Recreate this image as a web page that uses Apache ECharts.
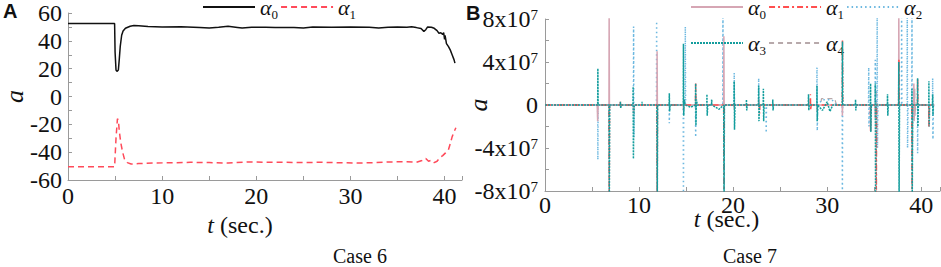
<!DOCTYPE html>
<html>
<head>
<meta charset="utf-8">
<script src="https://cdn.jsdelivr.net/npm/echarts@6/dist/echarts.min.js"></script>
<style>html,body{margin:0;padding:0;background:#fff}#c{width:941px;height:267px}</style>
</head>
<body>
<div id="c"></div>
<script>
// ---------- Panel A (Case 6): [t (sec.), a] ----------
const case6Alpha0 = [[0,52.5],[4.95,52.5],[5.0,32],[5.1,19],[5.2,18],[5.35,19],[5.45,27],[5.55,36],[5.7,44],[5.85,47],[6.1,49],[6.6,50.5],[7.0,51],[7.5,50.8],[8.5,50.3],[10,50],[12,50.2],[14,49.6],[15,49.3],[16,49.8],[17,50.4],[18,49.6],[18.5,49.2],[19.5,49.8],[21,49.7],[22,49.5],[24,49.6],[25,49.3],[26,49.9],[28,49.8],[30,50],[32,49.8],[33,49.3],[34,49.7],[35,50],[36,49.8],[36.5,50.1],[37,49.5],[37.5,48.8],[37.8,46.8],[38.0,48],[38.2,50],[38.6,49.8],[38.9,49],[39.2,47.3],[39.4,45.5],[39.6,45.8],[39.8,44.5],[39.9,46],[40.0,41],[40.05,44],[40.2,38],[40.4,36],[40.6,33.5],[40.8,30],[41.0,26.5],[41.1,24]];
const case6Alpha1 = [[0,-50.5],[4.95,-50.5],[5.1,-30],[5.25,-16],[5.35,-17],[5.45,-25],[5.6,-33],[5.8,-40],[6.0,-45],[6.3,-47.5],[6.7,-48.5],[7.5,-48.2],[9,-47.8],[11,-47.6],[13,-47.3],[15,-47.5],[17,-47.8],[19,-47],[21,-47.2],[23,-47.3],[25,-47.4],[27,-47.3],[29,-47.6],[31,-47.8],[32.5,-47.5],[34,-47],[36,-46.9],[37,-47.3],[37.6,-46],[38.0,-44.5],[38.3,-46.5],[38.6,-45.8],[38.9,-47.5],[39.2,-46.5],[39.5,-44],[39.8,-42.5],[40.1,-40.5],[40.4,-38.5],[40.6,-34],[40.8,-29],[41.0,-25.5],[41.2,-22.5]];

// ---------- Panel B (Case 7): [t (sec.), a in units of 10^7] ----------
const case7Alpha0 = [[0,0],[5.55,0],[5.6,-1.5],[5.65,0],[6.8,0],[6.82,9],[6.85,0],[9.4,0],[9.42,-0.8],[9.45,0],[11.9,0],[11.92,5],[11.95,0],[14.7,0],[14.72,-0.5],[14.75,0],[19.0,0],[19.02,6.4],[19.05,0],[20.1,0],[20.12,-0.4],[20.15,0],[22.7,0],[22.72,0.5],[22.75,0],[28.9,0],[28.92,-0.6],[28.95,0],[31.6,0],[31.62,-1],[31.65,0],[35.1,0],[35.12,-1.2],[35.15,0],[37.6,0],[37.62,9],[37.65,0],[39.2,0],[39.22,2],[39.25,-1.5],[39.3,0],[41.4,0]];
const case7Alpha1 = [[0,0],[6.8,0],[6.83,-9],[6.86,0],[8.0,0],[8.02,0.3],[8.05,0],[11.9,0],[11.93,-9],[11.96,0],[16.0,0],[16.02,2],[16.05,0],[19.0,0],[19.03,-9],[19.06,0],[22.8,0],[22.82,-0.8],[22.85,0],[28.2,0],[28.22,1],[28.25,-0.5],[28.3,0],[31.6,0],[31.63,6],[31.66,0],[34.6,0],[34.62,-2.5],[34.65,0],[35.2,0],[35.23,-9],[35.26,0],[37.6,0],[37.63,4.3],[37.66,0],[39.0,0],[39.03,-9],[39.06,0],[39.6,0],[39.62,2.5],[39.65,0],[40.8,0],[40.82,-2],[40.85,0],[41.4,0]];
const case7Alpha2 = [[0,0],[5.6,0],[5.62,-5.1],[5.65,0],[9.4,0],[9.42,7.3],[9.45,-3],[9.5,0],[11.85,0],[11.87,7.8],[11.9,0],[13.2,0],[13.22,-1.7],[13.25,0],[14.7,0],[14.72,-9],[14.75,0],[14.9,0],[14.92,7.3],[14.95,0],[16.0,0],[16.02,-3],[16.05,0],[18.9,0],[18.92,9],[18.95,0],[20.1,0],[20.12,3],[20.15,0],[22.7,0],[22.72,2.5],[22.75,0],[23.5,0],[23.52,-2.6],[23.55,0],[28.9,0],[28.92,3.5],[28.95,-2.4],[29.0,0],[29.5,0.5],[30.5,0.5],[31.0,0],[31.6,0],[31.62,-9],[31.65,0],[34.4,0],[34.42,3.5],[34.45,-2],[34.5,0],[35.1,0],[35.12,4.2],[35.15,0],[35.3,0],[35.32,9],[35.35,-4],[35.4,0],[37.9,0],[37.92,9],[37.95,0],[38.5,0],[38.52,9],[38.55,-4],[38.6,0],[39.0,0],[39.02,9],[39.05,-5.3],[39.1,0],[39.6,0],[39.62,-4.5],[39.65,0],[41.2,0],[41.22,2.5],[41.25,-3.2],[41.3,0],[41.4,0]];
const case7Alpha3 = [[0,0],[5.6,0],[5.62,3.4],[5.65,0],[6.8,0],[6.84,-9],[6.88,0],[8.0,0],[8.02,0.3],[8.05,-0.3],[8.1,0],[9.35,0],[9.37,1.7],[9.4,-5],[9.45,-1],[9.5,0],[10.3,0],[10.32,0.3],[10.35,0],[11.9,0],[11.94,-9],[11.98,0],[13.2,0],[13.22,1.1],[13.25,-0.6],[13.3,0],[14.7,0],[14.72,5.7],[14.75,-1],[14.8,0.5],[14.9,0],[15.5,-0.2],[16.0,0],[16.02,2],[16.05,-1.9],[16.1,0.5],[16.2,0],[17.2,0],[17.22,1],[17.25,-1],[17.3,0],[17.7,0],[17.72,0.5],[17.75,0],[18.5,-0.4],[19.0,0],[19.04,-9],[19.08,0],[20.1,0],[20.12,2.2],[20.15,-2.3],[20.2,0],[21.4,0],[21.42,0.5],[21.45,-0.5],[21.5,0],[22.7,0],[22.72,1.8],[22.75,-1.5],[22.8,0],[23.2,0],[23.22,1.5],[23.25,-1.5],[23.3,0],[24.2,0],[24.22,0.5],[24.25,-0.5],[24.3,0],[28.0,0],[28.02,1],[28.05,-0.5],[28.1,0],[28.9,0],[28.92,1.8],[28.95,-1.5],[29.0,0],[29.5,-0.5],[30.0,0.3],[30.3,-0.6],[30.6,0],[31.6,0],[31.63,5.9],[31.66,0],[33.0,0],[33.02,0.5],[33.05,-0.5],[33.1,0],[34.6,0],[34.62,2],[34.65,-2.5],[34.7,0],[35.1,0],[35.12,2],[35.15,-9],[35.2,0],[36.4,0],[36.42,1],[36.45,-1],[36.5,0],[37.6,0],[37.62,4],[37.65,-9],[37.7,0],[39.0,0],[39.02,1.5],[39.05,-9],[39.1,0],[39.6,0],[39.62,2.5],[39.65,-2],[39.7,0],[40.8,0],[40.82,2.2],[40.85,-2],[40.9,0],[41.2,0],[41.22,1],[41.25,-1],[41.3,0]];
const case7Alpha4 = [[0,0],[14.7,0],[14.72,0.5],[14.75,0],[19.0,0],[19.02,-0.8],[19.05,0],[29.3,0],[29.4,0.6],[30.8,0.6],[31.0,0],[35.2,0],[35.22,1.5],[35.25,0],[39.3,0],[39.32,1.5],[39.35,-1],[39.4,0],[41.4,0]];

// ---------- ticks ----------
const caseAYTicks = {min: -60, max: 60, interval: 20};
const caseBYTicks = {min: -8, max: 8, interval: 4};   // units of 10^7
const xTickInterval = 10;

const SERIF = 'Liberation Serif';
const chart = echarts.init(document.getElementById('c'), null, {renderer: 'svg'});

const axisLineStyle = {color: '#9a9a9a', width: 1};
const labelRich = {
  m: {fontFamily: SERIF, fontSize: 24, color: '#111'},
  p: {fontFamily: SERIF, fontSize: 15, color: '#111', padding: [0, 0, 9, 0]}
};
function xAxisCfg(grid, max, gap, padRight, labelMargin) {
  return {
    type: 'value', gridIndex: grid, min: 0, max: max, interval: xTickInterval,
    axisLine: {show: true, onZero: false, lineStyle: axisLineStyle},
    axisTick: {show: true, inside: true, length: 4, lineStyle: axisLineStyle},
    minorTick: {show: true, splitNumber: 2, length: 4, lineStyle: axisLineStyle},
    splitLine: {show: false},
    axisLabel: {margin: labelMargin, showMaxLabel: false, rich: labelRich, fontSize: 24, fontFamily: SERIF, color: '#111',
      formatter: v => (Math.abs(v % xTickInterval) < 1e-9 ? '{m|' + v + '}' : '')},
    name: '{i|t}{r| (sec.)}', nameLocation: 'middle', nameGap: gap, nameMoveOverlap: false,
    nameTextStyle: {padding: [0, padRight, 0, 0], fontSize: 24, fontFamily: SERIF, color: '#111',
      rich: {i: {fontFamily: SERIF, fontSize: 24, fontStyle: 'italic', color: '#111'},
             r: {fontFamily: SERIF, fontSize: 24, color: '#111'}}}
  };
}
function yAxisCfg(grid, ticks, gap, margin, fmt) {
  return {
    type: 'value', gridIndex: grid, min: ticks.min, max: ticks.max, interval: ticks.interval,
    axisLine: {show: true, onZero: false, lineStyle: axisLineStyle},
    axisTick: {show: true, inside: true, length: 4, lineStyle: axisLineStyle},
    minorTick: {show: true, splitNumber: 2, length: 4, lineStyle: axisLineStyle},
    splitLine: {show: false},
    axisLabel: {margin: margin, formatter: fmt, rich: labelRich, fontSize: 24, fontFamily: SERIF, color: '#111'},
    name: '{i|a}', nameLocation: 'middle', nameRotate: 90, nameGap: gap, nameMoveOverlap: false,
    nameTextStyle: {fontSize: 26, fontFamily: SERIF, color: '#111',
      rich: {i: {fontFamily: SERIF, fontSize: 26, fontStyle: 'italic', color: '#111'}}}
  };
}
const legendRich = {
  a: {fontFamily: SERIF, fontStyle: 'italic', fontSize: 22, lineHeight: 22, verticalAlign: 'top', color: '#111'},
  s: {fontFamily: SERIF, fontSize: 13, lineHeight: 13, padding: [12, 0, 0, 0], verticalAlign: 'top', color: '#111'}
};
const legendFmt = name => '{a|α}{s|' + name.slice(1) + '}';
function legendCfg(data, left, top) {
  return {data: data, left: left, top: top, itemWidth: 52, itemHeight: 10, itemGap: 2,
    itemStyle: {opacity: 0},
    formatter: legendFmt, textStyle: {fontFamily: SERIF, rich: legendRich}, selectedMode: false};
}
function lineSeries(name, x, y, data, color, type, width, z) {
  return {name: name, type: 'line', xAxisIndex: x, yAxisIndex: y, data: data, symbol: 'none', showSymbol: false,
    z: z || 2, lineStyle: {color: color, type: type, width: width}, itemStyle: {color: color}};
}

chart.setOption({
  animation: false,
  backgroundColor: '#fff',
  textStyle: {fontFamily: SERIF},
  grid: [
    {left: 63, top: 13, width: 399, height: 167},
    {left: 545, top: 19, width: 395, height: 172}
  ],
  xAxis: [xAxisCfg(0, 41.85, 33, 50, 4), xAxisCfg(1, 42, 16, 32, 2)],
  yAxis: [
    yAxisCfg(0, caseAYTicks, 41, 6, v => '{m|' + v + '}'),
    yAxisCfg(1, caseBYTicks, 54, 7, v => (v === 0 ? '{m|0}' : '{m|' + v + 'x10}{p|7}'))
  ],
  legend: [
    legendCfg(['A0', 'A1'], 197, -9),
    legendCfg(['B0', 'B1', 'B2'], 685, -9),
    legendCfg(['B3', 'B4'], 685, 27)
  ],
  series: [
    lineSeries('A0', 0, 0, case6Alpha0, '#111111', 'solid', 1.5),
    lineSeries('A1', 0, 0, case6Alpha1, '#ff4a5a', [6, 4], 1.5),
    lineSeries('B0', 1, 1, case7Alpha0, '#d6a6b4', 'solid', 1.5, 3),
    lineSeries('B1', 1, 1, case7Alpha1, '#ff4f4f', [6, 3, 2, 3], 1.5, 4),
    lineSeries('B2', 1, 1, case7Alpha2, '#6cb8e0', [1.5, 3], 1.5, 2),
    lineSeries('B3', 1, 1, case7Alpha3, '#139d9d', [2, 1], 1.5, 5),
    lineSeries('B4', 1, 1, case7Alpha4, '#b7a9ab', [5, 4], 1.2, 1)
  ],
  graphic: [
    {type: 'text', left: 3, top: 1, style: {text: 'A', font: 'bold 20px Liberation Sans', fill: '#111'}},
    {type: 'text', left: 466, top: 3, style: {text: 'B', font: 'bold 20px Liberation Sans', fill: '#111'}},
    {type: 'text', left: 333, top: 246, style: {text: 'Case 6', font: '20px Liberation Serif', fill: '#111'}},
    {type: 'text', left: 723, top: 246, style: {text: 'Case 7', font: '20px Liberation Serif', fill: '#111'}}
  ]
});
</script>
</body>
</html>
